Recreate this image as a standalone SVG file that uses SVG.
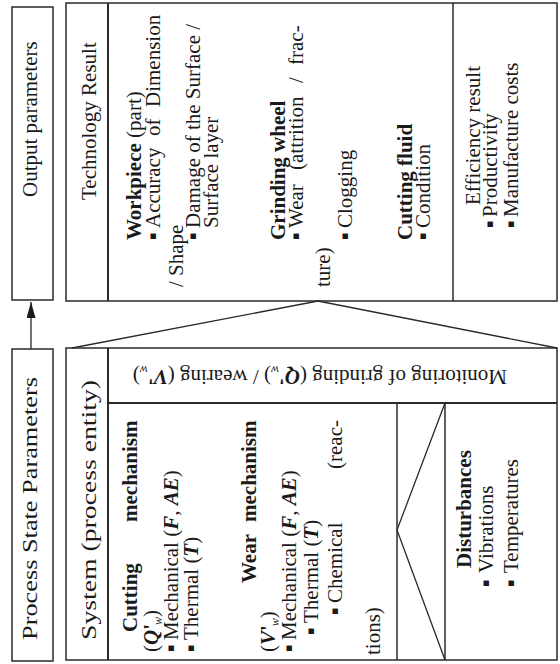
<svg xmlns="http://www.w3.org/2000/svg" width="560" height="664" viewBox="0 0 560 664">
  <style>
    .frame { fill: none; stroke: #2a2a2a; stroke-width: 1.5; }
    .rule { fill: none; stroke: #2a2a2a; stroke-width: 2; }
    .fine { fill: none; stroke: #2a2a2a; stroke-width: 1.3; }
    text { font-family: "Liberation Serif", "Times New Roman", serif; font-size: 21px; fill: #1a1a1a; }
    .b { font-weight: bold; }
    .bi { font-weight: bold; font-style: italic; }
    .bul { font-family: "DejaVu Sans", sans-serif; font-size: 11px; }
    .sub { font-size: 12px; font-style: italic; }
  </style>
  <defs>
    <marker id="head" markerUnits="userSpaceOnUse" markerWidth="16" markerHeight="9" refX="16" refY="4.5" orient="auto" viewBox="0 0 16 9">
      <path d="M0,0 L16,4.5 L0,9 Z" fill="#1a1a1a"/>
    </marker>
  </defs>

  <rect width="560" height="664" fill="#ffffff"/>

  <!-- connectors: process state to output, and the funnel strokes -->
  <g id="connectors">
    <line class="fine" x1="31" y1="349" x2="31" y2="302" marker-end="url(#head)"/>
    <polyline class="fine" points="72,348 318,301 557,348"/>
  </g>

  <!-- left column: output parameters -->
  <g id="output-parameters">
    <rect class="frame" x="12" y="7" width="41" height="293"/>
    <g transform="translate(0,664) rotate(-90)">
      <text x="467" y="37" font-size="20">Output parameters</text>
    </g>
  </g>

  <!-- left column: process state parameters -->
  <g id="process-state-parameters">
    <rect class="frame" x="12" y="349" width="41" height="312"/>
    <g transform="translate(0,664) rotate(-90)">
      <text x="24" y="37" textLength="263" lengthAdjust="spacingAndGlyphs">Process State Parameters</text>
    </g>
  </g>

  <!-- technology result block -->
  <g id="technology-result">
    <rect class="frame" x="66" y="3" width="491" height="298"/>
    <line class="rule" x1="108" y1="3" x2="108" y2="301"/>
    <line class="frame" x1="453" y1="3" x2="453" y2="301"/>
    <g transform="translate(0,664) rotate(-90)">
      <text x="464" y="96">Technology Result</text>

      <text x="424" y="141"><tspan class="b">Workpiece</tspan> (part)</text>
      <text y="160"><tspan class="bul" x="424" dy="-4">▪</tspan><tspan x="436" dy="4">Accuracy</tspan><tspan x="528">of</tspan><tspan x="557">Dimension</tspan></text>
      <text x="377" y="183">/ Shape</text>
      <text y="200"><tspan class="bul" x="424" dy="-4">▪</tspan><tspan x="436" dy="4">Damage of the Surface /</tspan></text>
      <text x="436" y="218">Surface layer</text>

      <text x="424" y="285" class="b">Grinding wheel</text>
      <text y="303"><tspan class="bul" x="424" dy="-4">▪</tspan><tspan x="436" dy="4">Wear</tspan><tspan x="494">(attrition</tspan><tspan x="581">/</tspan><tspan x="599">frac-</tspan></text>
      <text x="377" y="330">ture)</text>
      <text y="352"><tspan class="bul" x="424" dy="-4">▪</tspan><tspan x="436" dy="4">Clogging</tspan></text>

      <text x="424" y="412" class="b">Cutting fluid</text>
      <text y="430"><tspan class="bul" x="424" dy="-4">▪</tspan><tspan x="436" dy="4">Condition</tspan></text>
    </g>
  </g>

  <!-- efficiency result column -->
  <g id="efficiency-result">
    <g transform="translate(0,664) rotate(-90)">
      <text x="459" y="480">Efficiency result</text>
      <text y="497"><tspan class="bul" x="436" dy="-4">▪</tspan><tspan x="447" dy="4">Productivity</tspan></text>
      <text y="518"><tspan class="bul" x="436" dy="-4">▪</tspan><tspan x="447" dy="4">Manufacture costs</tspan></text>
    </g>
  </g>

  <!-- system (process entity) block -->
  <g id="system">
    <rect class="frame" x="66" y="348" width="491" height="312"/>
    <line class="rule" x1="108" y1="348" x2="108" y2="660"/>
    <line class="rule" x1="108" y1="403" x2="557" y2="403"/>
    <g transform="translate(0,664) rotate(-90)">
      <text x="24" y="96" textLength="260" lengthAdjust="spacingAndGlyphs">System (process entity)</text>

      <text y="137" class="b"><tspan x="32">Cutting</tspan><tspan x="142">mechanism</tspan></text>
      <text x="12" y="158">(<tspan class="bi">Q</tspan><tspan class="b">'</tspan><tspan class="sub" dx="-1" dy="4">w</tspan><tspan dy="-4">)</tspan></text>
      <text y="178"><tspan class="bul" x="12" dy="-4">▪</tspan><tspan x="24" dy="4">Mechanical (</tspan><tspan class="bi">F</tspan>, <tspan class="bi">AE</tspan>)</text>
      <text y="198"><tspan class="bul" x="12" dy="-4">▪</tspan><tspan x="24" dy="4">Thermal (</tspan><tspan class="bi">T</tspan>)</text>

      <text y="256" class="b"><tspan x="81">Wear</tspan><tspan x="142">mechanism</tspan></text>
      <text x="12" y="275">(<tspan class="bi">V</tspan><tspan class="b">'</tspan><tspan class="sub" dx="-1" dy="4">w</tspan><tspan dy="-4">)</tspan></text>
      <text y="296"><tspan class="bul" x="12" dy="-4">▪</tspan><tspan x="24" dy="4">Mechanical (</tspan><tspan class="bi">F</tspan>, <tspan class="bi">AE</tspan>)</text>
      <text y="318"><tspan class="bul" x="29" dy="-4">▪</tspan><tspan x="41" dy="4">Thermal (</tspan><tspan class="bi">T</tspan>)</text>
      <text y="342"><tspan class="bul" x="49" dy="-4">▪</tspan><tspan x="61" dy="4">Chemical</tspan><tspan x="195">(reac-</tspan></text>
      <text x="9" y="380">tions)</text>
    </g>
    <text transform="translate(507,370) rotate(180)" font-size="23">Monitoring of grinding (<tspan class="bi">Q</tspan><tspan class="b">'</tspan><tspan class="sub" dy="4">w</tspan><tspan dy="-4">) / wearing (</tspan><tspan class="bi">V</tspan><tspan class="b">'</tspan><tspan class="sub" dy="4">w</tspan><tspan dy="-4">)</tspan></text>
  </g>

  <!-- disturbances block with its wedge -->
  <g id="disturbances">
    <line class="frame" x1="397" y1="403" x2="397" y2="660"/>
    <line class="frame" x1="445" y1="403" x2="445" y2="660"/>
    <polyline class="fine" points="445,403 397,530 445,660"/>
    <g transform="translate(0,664) rotate(-90)">
      <text x="96" y="471" class="b">Disturbances</text>
      <text y="493"><tspan class="bul" x="77" dy="-4">▪</tspan><tspan x="91" dy="4">Vibrations</tspan></text>
      <text y="518"><tspan class="bul" x="77" dy="-4">▪</tspan><tspan x="91" dy="4">Temperatures</tspan></text>
    </g>
  </g>
</svg>
